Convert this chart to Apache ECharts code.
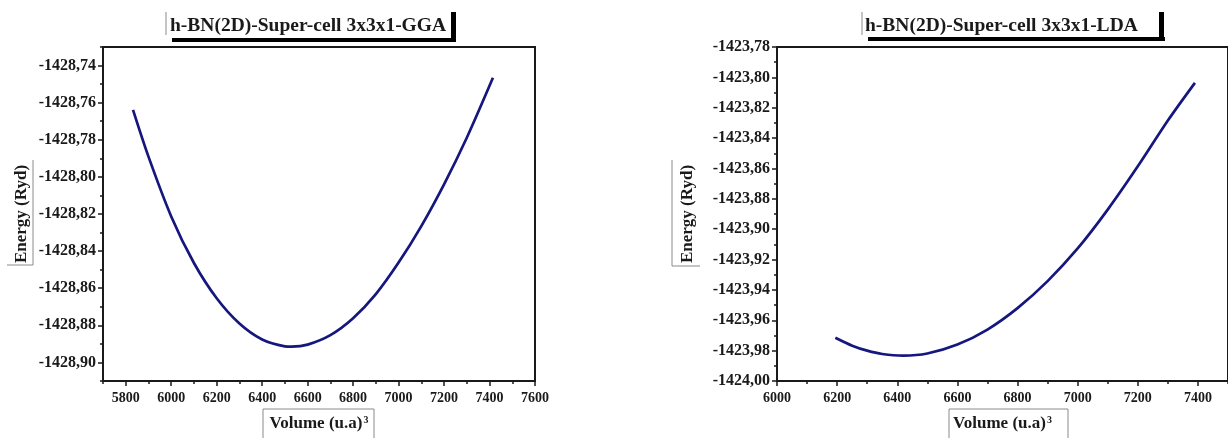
<!DOCTYPE html>
<html><head><meta charset="utf-8">
<script src="https://cdn.jsdelivr.net/npm/echarts@6/dist/echarts.min.js"></script>
<style>html,body{margin:0;padding:0;background:#fff}#c{width:1228px;height:438px}</style>
</head><body><div id="c"></div>
<script>
// ---- GGA panel data ----
const ggaTitle = 'h-BN(2D)-Super-cell 3x3x1-GGA';
const ggaVolume = [5832, 5900, 6000, 6100, 6200, 6300, 6400, 6500, 6530, 6600, 6700, 6800, 6900, 7000, 7100, 7200, 7300, 7415];
const ggaEnergy = [-1428.7639, -1428.7891, -1428.8213, -1428.8464, -1428.8654, -1428.8790, -1428.8876, -1428.8913, -1428.8915, -1428.8904, -1428.8853, -1428.8762, -1428.8632, -1428.8462, -1428.8265, -1428.8040, -1428.7789, -1428.7466];
const ggaXLabels = [5800, 6000, 6200, 6400, 6600, 6800, 7000, 7200, 7400, 7600];
const ggaXMinor = [5700, 5900, 6100, 6300, 6500, 6700, 6900, 7100, 7300, 7500];
const ggaYLabels = [-1428.90, -1428.88, -1428.86, -1428.84, -1428.82, -1428.80, -1428.78, -1428.76, -1428.74];
const ggaYMinor = [-1428.91, -1428.89, -1428.87, -1428.85, -1428.83, -1428.81, -1428.79, -1428.77, -1428.75, -1428.73];

// ---- LDA panel data ----
const ldaTitle = 'h-BN(2D)-Super-cell 3x3x1-LDA';
const ldaVolume = [6194, 6250, 6300, 6350, 6420, 6500, 6600, 6700, 6800, 6900, 7000, 7100, 7200, 7300, 7390];
const ldaEnergy = [-1423.9715, -1423.9767, -1423.9800, -1423.9822, -1423.9833, -1423.9819, -1423.9760, -1423.9661, -1423.9520, -1423.9342, -1423.9127, -1423.8871, -1423.8586, -1423.8284, -1423.8036];
const ldaXLabels = [6000, 6200, 6400, 6600, 6800, 7000, 7200, 7400];
const ldaXMinor = [6100, 6300, 6500, 6700, 6900, 7100, 7300, 7500];
const ldaYLabels = [-1424.00, -1423.98, -1423.96, -1423.94, -1423.92, -1423.90, -1423.88, -1423.86, -1423.84, -1423.82, -1423.80, -1423.78];
const ldaYMinor = [-1423.99, -1423.97, -1423.95, -1423.93, -1423.91, -1423.89, -1423.87, -1423.85, -1423.83, -1423.81, -1423.79];

const axisName = 'Energy (Ryd)';
const xName = 'Volume (u.a)';

const FONT = "'Liberation Serif','Times New Roman',serif";
const INK = '#1a1a1a';
const CURVE = '#16167f';

const zip = (a, b) => a.map((v, i) => [v, b[i]]);
const fmtY = v => Number(v).toFixed(2).replace('.', ',');
const fmtX = v => String(Math.round(v));

function mainX(grid, min, max, labels) {
  return {
    type: 'value', gridIndex: grid, position: 'bottom', min, max,
    axisLine: { show: true, onZero: false, lineStyle: { color: INK, width: 2 } },
    axisTick: { show: true, inside: false, length: 5, customValues: labels, lineStyle: { color: INK, width: 1.5 } },
    axisLabel: { customValues: labels, formatter: fmtX, color: INK, fontFamily: FONT, fontWeight: 'bold', fontSize: 14, margin: 10 },
    splitLine: { show: false },
    name: '{a|' + xName + '}{s|3}', nameLocation: 'middle', nameGap: 34,
    nameTextStyle: { rich: {
      a: { fontFamily: FONT, fontWeight: 'bold', fontSize: 17, color: INK },
      s: { fontFamily: FONT, fontWeight: 'bold', fontSize: 10, color: INK, verticalAlign: 'top', padding: [0, 0, 8, 1] }
    } }
  };
}
function minorX(grid, min, max, minors) {
  return {
    type: 'value', gridIndex: grid, position: 'bottom', min, max,
    axisLine: { show: false, onZero: false },
    axisTick: { show: true, length: 3, customValues: minors, lineStyle: { color: INK, width: 1.5 } },
    axisLabel: { show: false }, splitLine: { show: false }
  };
}
function mainY(grid, min, max, labels, gap) {
  return {
    type: 'value', gridIndex: grid, position: 'left', min, max,
    axisLine: { show: true, onZero: false, lineStyle: { color: INK, width: 2 } },
    axisTick: { show: true, length: 5, customValues: labels, lineStyle: { color: INK, width: 1.5 } },
    axisLabel: { customValues: labels, formatter: fmtY, color: INK, fontFamily: FONT, fontWeight: 'bold', fontSize: 16, margin: 7 },
    splitLine: { show: false },
    name: axisName, nameLocation: 'middle', nameGap: gap, nameRotate: 90,
    nameTextStyle: { fontFamily: FONT, fontWeight: 'bold', fontSize: 17, color: INK }
  };
}
function minorY(grid, min, max, minors) {
  return {
    type: 'value', gridIndex: grid, position: 'left', min, max,
    axisLine: { show: false, onZero: false },
    axisTick: { show: true, length: 3, customValues: minors, lineStyle: { color: INK, width: 1.5 } },
    axisLabel: { show: false }, splitLine: { show: false }
  };
}

const gray = '#8a8a8a';
function ln(x1, y1, x2, y2, color, w) {
  return { type: 'line', silent: true, shape: { x1, y1, x2, y2 }, style: { stroke: color, lineWidth: w } };
}
function bar(x, y, w, h) {
  return { type: 'rect', silent: true, shape: { x, y, width: w, height: h }, style: { fill: '#000' } };
}

const chart = echarts.init(document.getElementById('c'), null, { renderer: 'canvas' });
chart.setOption({
  animation: false,
  backgroundColor: '#fff',
  title: [
    { text: ggaTitle, left: 170, top: 16, padding: 0, textStyle: { fontFamily: FONT, fontWeight: 'bold', fontSize: 19.5, color: INK } },
    { text: ldaTitle, left: 865, top: 16, padding: 0, textStyle: { fontFamily: FONT, fontWeight: 'bold', fontSize: 19.5, color: INK } }
  ],
  grid: [
    { left: 103, top: 47, width: 432, height: 334, show: true, borderColor: INK, borderWidth: 2, containLabel: false },
    { left: 777, top: 47, width: 462, height: 334, show: true, borderColor: INK, borderWidth: 2, containLabel: false }
  ],
  xAxis: [
    mainX(0, 5700, 7600, ggaXLabels), minorX(0, 5700, 7600, ggaXMinor),
    mainX(1, 6000, 7500, ldaXLabels), minorX(1, 6000, 7500, ldaXMinor)
  ],
  yAxis: [
    mainY(0, -1428.91, -1428.73, ggaYLabels, 73), minorY(0, -1428.91, -1428.73, ggaYMinor),
    mainY(1, -1424.00, -1423.78, ldaYLabels, 81), minorY(1, -1424.00, -1423.78, ldaYMinor)
  ],
  series: [
    { type: 'line', xAxisIndex: 0, yAxisIndex: 0, data: zip(ggaVolume, ggaEnergy), smooth: 0.3, showSymbol: false,
      lineStyle: { color: CURVE, width: 2.7 }, itemStyle: { color: CURVE } },
    { type: 'line', xAxisIndex: 2, yAxisIndex: 2, data: zip(ldaVolume, ldaEnergy), smooth: 0.3, showSymbol: false,
      lineStyle: { color: CURVE, width: 2.7 }, itemStyle: { color: CURVE } }
  ],
  graphic: [
    // title frames
    ln(166, 12, 166, 35, gray, 1), bar(172, 38, 284, 4), bar(451, 12, 5, 30),
    ln(862, 12, 862, 35, gray, 1), bar(868, 37, 297, 4), bar(1159, 12, 5, 29),
    // y name frames
    ln(33, 160, 33, 265, gray, 1), ln(7, 265, 33, 265, gray, 1),
    ln(672, 160, 672, 266, gray, 1), ln(672, 266, 700, 266, gray, 1),
    // x name frames
    ln(263, 409, 374, 409, gray, 1), ln(263, 409, 263, 438, gray, 1), ln(374, 409, 374, 438, gray, 1),
    ln(949, 409, 1068, 409, gray, 1), ln(949, 409, 949, 438, gray, 1), ln(1068, 409, 1068, 438, gray, 1)
  ]
});
</script></body></html>
